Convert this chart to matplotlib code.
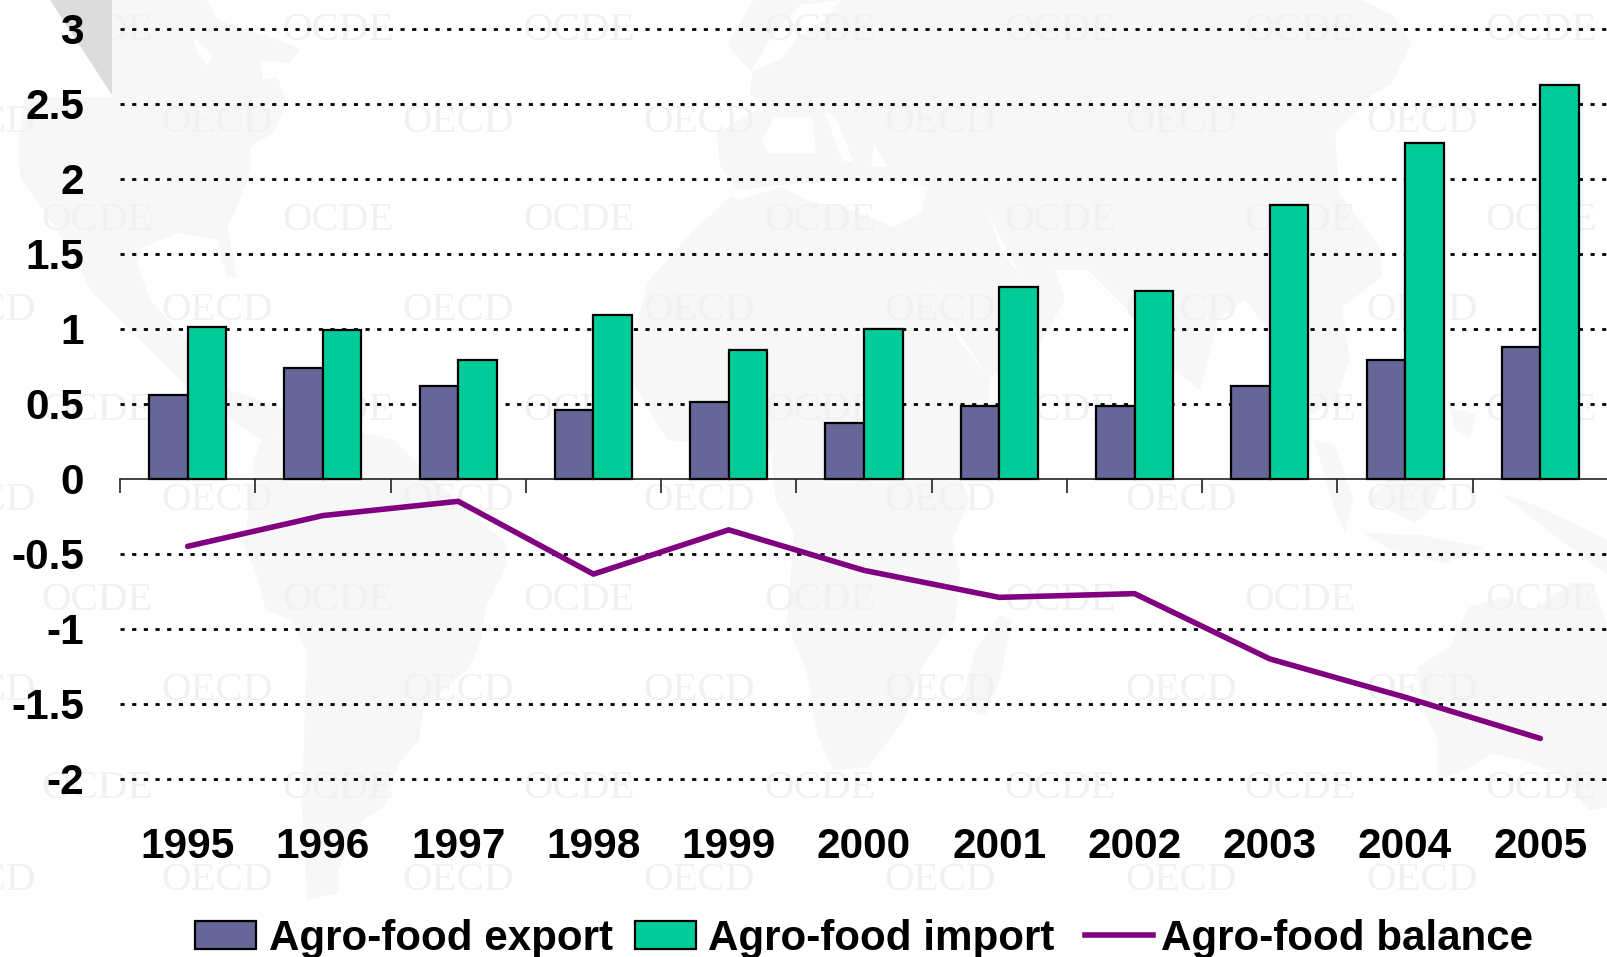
import matplotlib
matplotlib.use("Agg")
import matplotlib.pyplot as plt
from matplotlib.patches import Polygon, Patch, Rectangle
from matplotlib.lines import Line2D
import numpy as np

plt.rcParams['font.family'] = ['Liberation Sans', 'DejaVu Sans']

W, H = 1608, 957

# data
years = ['1995', '1996', '1997', '1998', '1999', '2000', '2001', '2002', '2003', '2004', '2005']
export_vals = [0.56, 0.74, 0.615, 0.46, 0.51, 0.375, 0.485, 0.485, 0.615, 0.79, 0.88]
import_vals = [1.01, 0.99, 0.79, 1.09, 0.855, 1.0, 1.28, 1.25, 1.825, 2.235, 2.625]
balance_vals = [-0.45, -0.245, -0.15, -0.635, -0.34, -0.61, -0.79, -0.765, -1.2, -1.455, -1.73]
ytick_vals = [3, 2.5, 2, 1.5, 1, 0.5, 0, -0.5, -1, -1.5, -2]

# faint world map behind the chart, rough outlines in picture pixels
land_shapes = [
    # north and central america
    [(50, 0), (207, 0), (217, 20), (287, 43), (300, 50), (290, 63), (260, 60), (263, 80), (277, 77), (287, 103),
     (273, 133), (250, 147), (250, 170), (240, 200), (227, 227), (237, 277), (227, 277), (217, 240), (177, 233),
     (143, 247), (137, 263), (150, 300), (230, 390), (330, 425), (261, 440), (200, 400), (140, 340), (93, 293),
     (57, 230), (20, 177), (18, 143), (25, 98), (25, 40)],
    # south america
    [(261, 440), (330, 425), (394, 440), (414, 460), (460, 503), (506, 543), (506, 567), (486, 607), (481, 640),
     (470, 667), (424, 707), (419, 740), (399, 763), (384, 807), (363, 820), (338, 870), (338, 893), (307, 900),
     (302, 807), (305, 707), (307, 653), (292, 620), (266, 610), (256, 573), (243, 543), (251, 503), (254, 460)],
    # eurasia and africa
    [(754, 0), (1362, 0), (1395, 17), (1412, 43), (1392, 83), (1369, 97), (1335, 133), (1339, 193), (1382, 250),
     (1382, 277), (1342, 307), (1350, 360), (1335, 400), (1300, 420), (1285, 350), (1245, 300), (1218, 320),
     (1200, 390), (1175, 370), (1135, 317), (1088, 270), (1055, 270), (1065, 300), (1038, 347), (990, 378),
     (988, 413), (961, 480), (970, 500), (952, 540), (960, 573), (955, 620), (922, 667), (904, 720), (868, 767),
     (833, 770), (817, 733), (807, 673), (787, 623), (794, 533), (776, 500), (770, 450), (667, 440), (633, 383),
     (633, 340), (647, 283), (694, 230), (738, 190), (720, 165), (717, 133), (765, 105), (750, 95), (752, 72),
     (727, 45)],
    # madagascar
    [(975, 650), (1000, 615), (1012, 620), (1000, 680), (985, 715), (965, 710), (965, 690)],
    # sumatra
    [(1314, 440), (1335, 445), (1353, 500), (1345, 533), (1335, 510)],
    # borneo and java
    [(1368, 500), (1388, 480), (1446, 473), (1430, 510), (1415, 523)],
    [(1364, 533), (1420, 535), (1484, 547), (1446, 563), (1390, 550)],
    # philippines, new guinea
    [(1449, 407), (1476, 415), (1470, 437), (1455, 430)],
    [(1500, 493), (1535, 505), (1608, 540), (1608, 575), (1560, 540), (1535, 520)],
    # australia
    [(1417, 667), (1450, 647), (1469, 607), (1504, 597), (1535, 610), (1570, 583), (1593, 583), (1608, 627),
     (1608, 807), (1589, 810), (1558, 773), (1523, 760), (1492, 753), (1465, 770), (1438, 780), (1438, 740),
     (1422, 707)],
]
sea_shapes = [
    # hudson bay
    [(193, 37), (213, 55), (207, 65), (197, 53)],
    # scandinavia
    [(841, 0), (825, 20), (800, 35), (780, 60), (750, 72), (770, 40), (800, 5)],
    # mediterranean, baltic, black sea
    [(724, 193), (760, 187), (800, 183), (894, 180), (928, 187), (921, 213), (894, 227), (860, 213), (807, 200),
     (781, 187), (740, 200)],
    [(774, 117), (812, 117), (816, 153), (768, 153), (762, 140)],
    [(824, 110), (836, 118), (854, 163), (842, 160)],
    [(874, 143), (888, 167), (871, 167)],
    # red sea, persian gulf
    [(924, 257), (948, 317), (988, 377), (954, 333)],
    [(988, 213), (1021, 277), (1001, 250)],
]

oecd_x = [-20, 217, 458, 699, 940, 1181, 1422]
oecd_y = [120, 308, 498, 688, 878]
ocde_x = [97, 338, 579, 820, 1060, 1300, 1541]
ocde_y = [28, 217, 407, 597, 785]

fig = plt.figure(figsize=(W / 100, H / 100), dpi=100, facecolor='white')


def to_fig(pts):
    return [(x / W, 1 - y / H) for x, y in pts]


for shape in land_shapes:
    fig.add_artist(Polygon(to_fig(shape), closed=True, facecolor='#f7f7f7', edgecolor='none', zorder=-5))
for shape in sea_shapes:
    fig.add_artist(Polygon(to_fig(shape), closed=True, facecolor='white', edgecolor='none', zorder=-4.5))

# watermark
for y in oecd_y:
    for x in oecd_x:
        fig.text(x / W, 1 - (y + 3) / H, 'OECD', family='Liberation Serif', fontsize=29.5, color='#f1f1f1',
                 ha='center', va='center', zorder=-4)
for y in ocde_y:
    for x in ocde_x:
        fig.text(x / W, 1 - (y + 3) / H, 'OCDE', family='Liberation Serif', fontsize=29.5, color='#f1f1f1',
                 ha='center', va='center', zorder=-4)

# folded corner
fig.add_artist(Rectangle((0, 1 - 97 / H), 112 / W, 97 / H, facecolor='white', edgecolor='none', zorder=-3.5,
                         transform=fig.transFigure))
fig.add_artist(Polygon(to_fig([(50, 0), (112, 0), (112, 95)]), closed=True, facecolor='#dcdcdc',
                       edgecolor='none', zorder=-3))

ax = fig.add_axes([120 / W, 1 - 779 / H, (W - 120) / W, 750.5 / H])
ax.patch.set_alpha(0)

# has to come first, moving the spine resets the ticks
for side in ['top', 'left', 'right']:
    ax.spines[side].set_visible(False)
ax.spines['bottom'].set_position(('data', 0))
ax.spines['bottom'].set_linewidth(1.2)
ax.spines['bottom'].set_color('#222222')
ax.spines['bottom'].set_zorder(2)

x = np.arange(len(years))
bar_w = 0.285
ax.bar(x - bar_w / 2, export_vals, bar_w, color='#666699', edgecolor='black', linewidth=1.6, zorder=3)
ax.bar(x + bar_w / 2, import_vals, bar_w, color='#00cc99', edgecolor='black', linewidth=1.6, zorder=3)
ax.plot(x, balance_vals, color='#800080', linewidth=4, zorder=4, solid_capstyle='round')

ax.set_xlim(-0.5, (W - 120) / 135.3 - 0.5)
ax.set_ylim(-2, 3)

ax.set_yticks(ytick_vals)
ax.set_yticklabels([f'{v:g}' for v in ytick_vals], fontsize=30.5, fontweight='bold', color='black')
ax.tick_params(axis='y', length=0, pad=26)

ax.set_xticks(np.arange(-0.5, len(years)), minor=True)
ax.set_xticks(x)
ax.set_xticklabels(years, fontsize=30.5, fontweight='bold', color='black')
ax.tick_params(axis='x', which='major', length=0, pad=251)
ax.tick_params(axis='x', which='minor', length=10, width=1.2, color='#222222')

for v in ytick_vals:
    if v != 0:
        ax.axhline(v, color='black', linewidth=2, linestyle=(0, (1.5, 2.7)), zorder=1, clip_on=False)

legend_font = {'family': 'Liberation Sans', 'weight': 'bold', 'size': 30.3}
fig.legend([Patch(facecolor='#666699', edgecolor='black', linewidth=1.6),
            Patch(facecolor='#00cc99', edgecolor='black', linewidth=1.6)],
           ['Agro-food export', 'Agro-food import'],
           loc='lower left', bbox_to_anchor=(191 / W, -6 / H), ncol=2, frameon=False, prop=legend_font,
           handlelength=1.45, handleheight=0.65, handletextpad=0.3, columnspacing=0.52,
           borderpad=0.1, borderaxespad=0)
fig.legend([Line2D([0], [0], color='#800080', linewidth=4)], ['Agro-food balance'],
           loc='lower left', bbox_to_anchor=(1081 / W, -6 / H), frameon=False, prop=legend_font,
           handlelength=1.6, handletextpad=0.2, borderpad=0.1, borderaxespad=0)

fig.savefig('out.png', dpi=100)
